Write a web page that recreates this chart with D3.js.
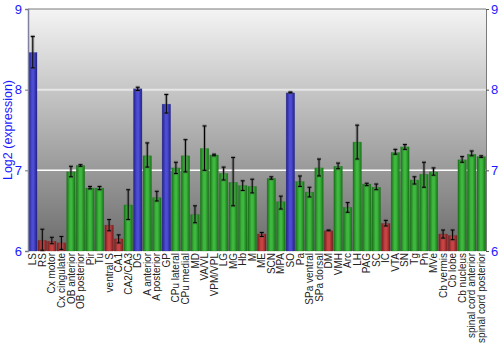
<!DOCTYPE html>
<html>
<head>
<meta charset="utf-8">
<script src="https://cdn.jsdelivr.net/npm/d3@7"></script>
<style>
  html, body { margin: 0; padding: 0; background: #fff; }
  svg { display: block; font-family: "Liberation Sans", Arial, sans-serif; }
</style>
</head>
<body>
<svg id="chart" width="500" height="350"></svg>
<script>
// Brain regions
const regions = ["LS", "RS", "Cx motor", "Cx cingulate", "OB anterior", "OB posterior", "Pir", "Tu",
  "ventral S", "CA1", "CA2/CA3", "DG", "A anterior", "A posterior", "GP", "CPu lateral", "CPu medial",
  "MD", "VA/VL", "VPM/VPL", "LG", "MG", "Hb", "M", "ME", "SCN", "MPA", "SO", "Pa", "SPa ventral",
  "SPa dorsal", "DM", "VMH", "Arc", "LH", "PAG", "SC", "IC", "VTA", "SN", "Tg", "Pn", "MVe",
  "Cb vermis", "Cb lobe", "Cb nucleus", "spinal cord anterior", "spinal cord posterior"];

// Mean log2 expression per region
const meanExpr = [8.46, 6.13, 6.12, 6.10, 6.98, 7.06, 6.78, 6.78,
  6.32, 6.15, 6.57, 8.01, 7.18, 6.66, 7.82, 7.03, 7.18,
  6.45, 7.27, 7.19, 6.96, 6.85, 6.81, 6.80, 6.21, 6.90, 6.61, 7.96, 6.86, 6.73,
  7.03, 6.25, 7.05, 6.54, 7.35, 6.83, 6.79, 6.34, 7.22, 7.29, 6.88, 6.95, 6.98,
  6.21, 6.19, 7.13, 7.20, 7.17];

// Lower / upper ends of the error bars
const errLow = [8.27, 6.01, 6.09, 6.02, 6.92, 7.05, 6.77, 6.76,
  6.25, 6.10, 6.39, 7.99, 7.04, 6.62, 7.71, 6.96, 6.98,
  6.35, 7.00, 7.18, 6.88, 6.56, 6.75, 6.72, 6.18, 6.89, 6.52, 7.96, 6.80, 6.67,
  6.93, 6.25, 7.02, 6.48, 7.14, 6.81, 6.76, 6.31, 7.20, 7.26, 6.83, 6.79, 6.94,
  6.16, 6.14, 7.10, 7.18, 7.16];
const errHigh = [8.66, 6.27, 6.17, 6.18, 7.05, 7.07, 6.80, 6.80,
  6.39, 6.20, 6.76, 8.03, 7.34, 6.74, 7.94, 7.10, 7.38,
  6.56, 7.55, 7.20, 7.04, 7.16, 6.87, 6.89, 6.23, 6.92, 6.68, 7.97, 6.93, 6.79,
  7.14, 6.26, 7.09, 6.60, 7.56, 6.84, 6.83, 6.38, 7.26, 7.32, 6.92, 7.10, 7.03,
  6.26, 6.26, 7.17, 7.24, 7.18];

const yTicks = [6, 7, 8, 9];

const svg = d3.select("#chart");
const plotL = 28, plotR = 486, plotT = 9, plotB = 251;

const x = d3.scaleBand().domain(regions).range([plotL, plotR]).paddingInner(0.12).paddingOuter(0.06);
const y = d3.scaleLinear().domain([6, 9]).range([plotB, plotT]);

const defs = svg.append("defs");

// Plot background: light at the top, dark grey at the bottom
const bg = defs.append("linearGradient").attr("id", "bg").attr("x1", 0).attr("y1", 0).attr("x2", 0).attr("y2", 1);
bg.append("stop").attr("offset", "0%").attr("stop-color", "#f4f4f4");
bg.append("stop").attr("offset", "100%").attr("stop-color", "#6c6c6c");

// Cylinder-like horizontal shading for the bars
const palettes = {
  high: ["#222288", "#4c4cd4"],
  mid:  ["#177217", "#3fb83f"],
  low:  ["#7a1c1c", "#c84444"]
};
Object.entries(palettes).forEach(([k, [edge, mid]]) => {
  const g = defs.append("linearGradient").attr("id", "bar-" + k).attr("x1", 0).attr("y1", 0).attr("x2", 1).attr("y2", 0);
  g.append("stop").attr("offset", "0%").attr("stop-color", edge);
  g.append("stop").attr("offset", "40%").attr("stop-color", mid);
  g.append("stop").attr("offset", "60%").attr("stop-color", mid);
  g.append("stop").attr("offset", "100%").attr("stop-color", edge);
});
const level = v => v >= 7.5 ? "high" : (v <= 6.4 ? "low" : "mid");

svg.append("rect").attr("x", plotL).attr("y", plotT).attr("width", plotR - plotL).attr("height", plotB - plotT)
  .attr("fill", "url(#bg)");

// Horizontal grid
svg.append("g").selectAll("line").data([7, 8]).join("line")
  .attr("x1", plotL).attr("x2", plotR).attr("y1", d => y(d)).attr("y2", d => y(d))
  .attr("stroke", d => d === 8 ? "#e6e6e6" : "#ffffff").attr("stroke-width", d => d === 8 ? 2 : 1.5);

// Top frame line
svg.append("line").attr("x1", plotL).attr("x2", plotR).attr("y1", plotT).attr("y2", plotT)
  .attr("stroke", "#7a7a7a").attr("stroke-width", 1);

const data = regions.map((r, i) => ({ r, v: meanExpr[i], lo: errLow[i], hi: errHigh[i] }));

// Bars
svg.append("g").selectAll("rect").data(data).join("rect")
  .attr("x", d => x(d.r)).attr("width", x.bandwidth())
  .attr("y", d => y(d.v)).attr("height", d => y(6) - y(d.v))
  .attr("fill", d => `url(#bar-${level(d.v)})`)
  .attr("stroke", d => palettes[level(d.v)][0]).attr("stroke-width", 0.5).attr("stroke-opacity", 0.6);

// Error bars: soft halo under a thin black stroke
const eb = svg.append("g").selectAll("g").data(data).join("g")
  .attr("transform", d => `translate(${x(d.r) + x.bandwidth() / 2},0)`);
[["rgba(90,90,90,0.45)", 3], ["#000", 1]].forEach(([c, w]) => {
  eb.append("line").attr("y1", d => y(d.lo)).attr("y2", d => y(d.hi)).attr("stroke", c).attr("stroke-width", w);
  eb.append("line").attr("x1", -2).attr("x2", 2).attr("y1", d => y(d.hi)).attr("y2", d => y(d.hi)).attr("stroke", c).attr("stroke-width", w);
  eb.append("line").attr("x1", -2).attr("x2", 2).attr("y1", d => y(d.lo)).attr("y2", d => y(d.lo)).attr("stroke", c).attr("stroke-width", w);
});

// Left axis
const yAxisL = svg.append("g").attr("transform", `translate(${plotL},0)`)
  .call(d3.axisLeft(y).tickValues(yTicks).tickFormat(d3.format("d")).tickSize(3).tickPadding(3));
yAxisL.select(".domain").attr("stroke", "#8080a0").attr("stroke-width", 1.5);
yAxisL.selectAll(".tick line").attr("stroke", "#777");
yAxisL.selectAll(".tick text").attr("fill", "#1a1aff").attr("font-size", 13)
  .attr("font-family", "Liberation Sans, Arial, sans-serif");

// Right axis
const yAxisR = svg.append("g").attr("transform", `translate(${plotR},0)`)
  .call(d3.axisRight(y).tickValues(yTicks).tickFormat(d3.format("d")).tickSize(3).tickPadding(2));
yAxisR.select(".domain").attr("stroke", "#7a7a7a").attr("stroke-width", 1);
yAxisR.selectAll(".tick line").attr("stroke", "#555");
yAxisR.selectAll(".tick text").attr("fill", "#1a1aff").attr("font-size", 13)
  .attr("font-family", "Liberation Sans, Arial, sans-serif");

// Axis title
svg.append("text").attr("transform", `translate(12,${(plotT + plotB) / 2}) rotate(-90)`)
  .attr("text-anchor", "middle").attr("fill", "#1a1aff").attr("font-size", 12.5)
  .text("Log2 (expression)");

// Region labels, vertical; font sized so the longest name fits above the bottom edge
const labelStart = plotB + 2, labelRoom = 90;
const labels = svg.append("g").selectAll("text").data(regions).join("text")
  .attr("text-anchor", "end").attr("fill", "#222").attr("font-size", 11)
  .text(d => d);
const longest = d3.max(labels.nodes(), n => n.getComputedTextLength());
const fs = Math.min(11, 11 * labelRoom / longest);
labels.attr("font-size", fs)
  .attr("transform", d => `translate(${x(d) + x.bandwidth() / 2 + fs * 0.36},${labelStart}) rotate(-90)`);
</script>
</body>
</html>
